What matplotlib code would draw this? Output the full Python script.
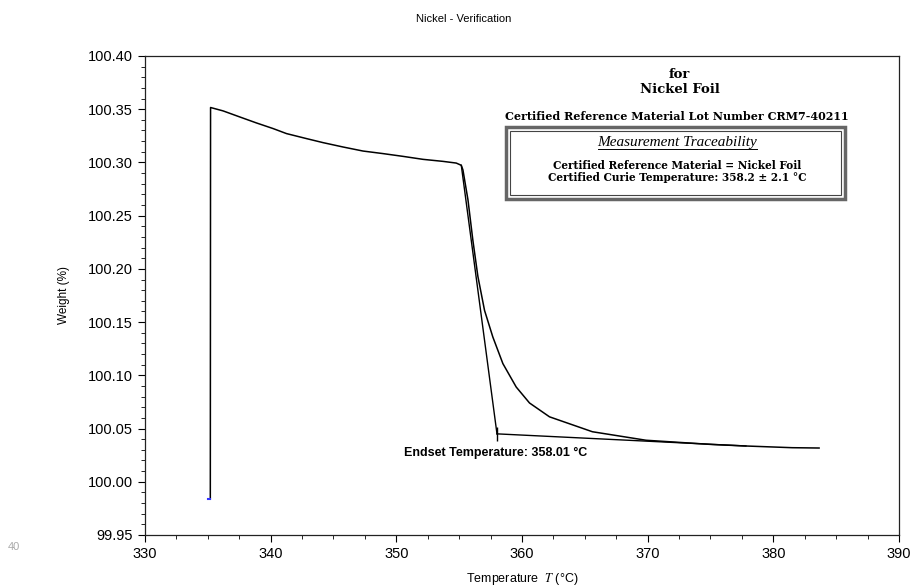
import matplotlib
matplotlib.use("Agg")
import matplotlib.pyplot as plt
from matplotlib.patches import Rectangle
from matplotlib.ticker import MultipleLocator, FormatStrFormatter

plt.rcParams['font.family'] = ['Liberation Sans', 'DejaVu Sans']
plt.rcParams['mathtext.fontset'] = 'stix'

temp = [335.2, 335.22, 336.22, 337.55, 338.87, 340.20, 341.26, 342.85, 344.17, 345.76,
        347.35, 348.94, 350.53, 352.12, 353.71, 354.77, 355.17,
        355.30, 355.70, 356.09, 356.49, 357.02, 357.68, 358.48, 359.54, 360.60,
        362.19, 365.60, 369.87, 375.14, 377.82, 381.50, 383.64]
weight = [99.984, 100.3516, 100.3484, 100.3427, 100.3371, 100.3318, 100.3271, 100.3224,
          100.3186, 100.3145, 100.3107, 100.3083, 100.3057, 100.3029, 100.3010, 100.2994,
          100.2973,
          100.293, 100.265, 100.227, 100.193, 100.161, 100.136, 100.111, 100.089, 100.074,
          100.061, 100.047, 100.039, 100.035, 100.0336, 100.032, 100.0317]

# endset construction
onset_pt = (355.17, 100.2973)
endset_t = 358.01
endset_w = 100.045
base_end = (377.82, 100.0336)

fig = plt.figure(figsize=(9.14, 5.85), dpi=100)
ax = fig.add_axes([0.1586, 0.0855, 0.8250, 0.8188])

ax.plot(temp, weight, color='black', lw=1.1)
ax.plot([335.0, 335.2], [99.984, 99.984], color='#3333ff', lw=1.5)
ax.plot([onset_pt[0], endset_t], [onset_pt[1], endset_w], color='black', lw=1.0)
ax.plot([endset_t, base_end[0]], [endset_w, base_end[1]], color='black', lw=1.0)
ax.plot([endset_t], [endset_w], marker='|', color='black', ms=10, mew=1.0)

ax.set_xlim(330, 390)
ax.set_ylim(99.95, 100.40)
ax.xaxis.set_major_locator(MultipleLocator(10))
ax.xaxis.set_minor_locator(MultipleLocator(2.5))
ax.yaxis.set_major_locator(MultipleLocator(0.05))
ax.yaxis.set_minor_locator(MultipleLocator(0.01))
ax.yaxis.set_major_formatter(FormatStrFormatter('%.2f'))
ax.tick_params(which='major', direction='out', length=5, labelsize=10.5, pad=3.5)
ax.tick_params(which='minor', direction='out', length=3)
for s in ax.spines.values():
    s.set_linewidth(0.9)
    s.set_color('#222222')

ax.set_xlabel(r'Temperature  $T$ (°C)', fontsize=9, labelpad=7)
ax.set_ylabel('Weight (%)', fontsize=8.5, labelpad=13)
fig.text(0.507, 0.968, 'Nickel - Verification', ha='center', va='center', fontsize=8)
fig.text(0.009, 0.065, '40', color='#aaaaaa', fontsize=8, ha='left', va='center')

ax.text(357.93, 100.027, 'Endset Temperature: 358.01 °C', ha='center', va='center',
        fontsize=9, fontweight='bold')

# certificate stamp
serif = ['DejaVu Serif']
ax.text(0.709, 0.962, 'for', transform=ax.transAxes, ha='center', va='center',
        family=serif, fontweight='bold', fontsize=9.5)
ax.text(0.709, 0.929, 'Nickel Foil', transform=ax.transAxes, ha='center', va='center',
        family=serif, fontweight='bold', fontsize=9.5)
ax.text(0.7056, 0.8747, 'Certified Reference Material Lot Number CRM7-40211', transform=ax.transAxes,
        ha='center', va='center', family=serif, fontweight='bold', fontsize=8)
ax.add_patch(Rectangle((0.4788, 0.7015), 0.4496, 0.150, transform=ax.transAxes,
                       fill=False, edgecolor='#666666', lw=2.5))
ax.add_patch(Rectangle((0.4845, 0.7100), 0.4382, 0.133, transform=ax.transAxes,
                       fill=False, edgecolor='#444444', lw=0.8))
ax.text(0.7056, 0.8184, 'Measurement Traceability', transform=ax.transAxes, ha='center',
        va='center', family=['Liberation Serif'], style='italic', fontsize=11)
ax.plot([0.6008, 0.8117], [0.8054, 0.8054], transform=ax.transAxes, color='black', lw=0.7)
ax.text(0.7056, 0.7705, 'Certified Reference Material = Nickel Foil', transform=ax.transAxes,
        ha='center', va='center', family=serif, fontweight='bold', fontsize=7.6)
ax.text(0.7056, 0.7460, 'Certified Curie Temperature: 358.2 ± 2.1 °C', transform=ax.transAxes,
        ha='center', va='center', family=serif, fontweight='bold', fontsize=7.6)

fig.savefig('out.png', dpi=100)
